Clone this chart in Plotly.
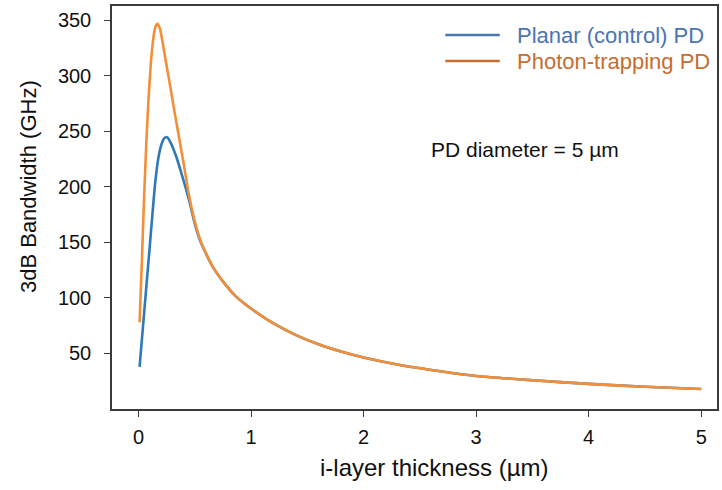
import plotly.graph_objects as go

# i-layer thickness (um) and 3dB bandwidth (GHz)
x_planar = [0.01, 0.05, 0.10, 0.15, 0.18, 0.21, 0.23, 0.25, 0.27, 0.29, 0.33, 0.38, 0.45, 0.50,
            0.55, 0.60, 0.66, 0.75, 0.87, 1.0, 1.1, 1.2, 1.4, 1.6, 1.8, 2.0, 2.3, 2.6, 3.0, 3.5,
            4.0, 4.5, 5.0]
y_planar = [38, 86, 146, 205, 228, 240, 244, 245, 243, 239, 229, 213, 188, 167,
            151, 140, 128, 115, 101, 90.5, 83.5, 77.2, 66.6, 58.3, 51.7, 46.3, 40, 35.2, 29.8, 25.9,
            22.6, 20.0, 18]

x_trap = [0.01, 0.03, 0.05, 0.07, 0.09, 0.11, 0.13, 0.15, 0.17, 0.19, 0.21, 0.24, 0.28, 0.32, 0.36,
          0.40, 0.45, 0.50, 0.55, 0.60, 0.66, 0.75, 0.87, 1.0, 1.1, 1.2, 1.4, 1.6, 1.8, 2.0, 2.3,
          2.6, 3.0, 3.5, 4.0, 4.5, 5.0]
y_trap = [78, 132, 190, 240, 280, 311, 332, 344, 347, 343, 333, 315, 292, 268, 245,
          222, 192, 169, 152, 140, 128, 115, 101, 90.5, 83.5, 77.2, 66.6, 58.3, 51.7, 46.3, 40,
          35.2, 29.8, 25.9, 22.6, 20.0, 18]

series_names = ["Planar (control) PD", "Photon-trapping PD"]
x_ticks = [0, 1, 2, 3, 4, 5]
y_ticks = [50, 100, 150, 200, 250, 300, 350]

FONT = "Liberation Sans, Arial, sans-serif"
BLUE = "#3179b6"
ORANGE = "#f28f38"
BLUE_LEG = "#4a74b2"
ORANGE_LEG = "#c66d30"
TXT = "#111111"

fig = go.Figure()
fig.add_trace(go.Scatter(x=x_planar, y=y_planar, mode="lines", name=series_names[0], showlegend=False,
                         line=dict(color=BLUE, width=2.6, shape="spline", smoothing=0.6)))
fig.add_trace(go.Scatter(x=x_trap, y=y_trap, mode="lines", name=series_names[1], showlegend=False,
                         line=dict(color=ORANGE, width=2.6, shape="spline", smoothing=0.6)))

# hand-drawn legend (paper coordinates)
for name, col, yy in [(series_names[0], BLUE_LEG, 0.928), (series_names[1], ORANGE_LEG, 0.8635)]:
    fig.add_shape(type="line", xref="paper", yref="paper", x0=0.551, x1=0.641, y0=yy, y1=yy,
                  line=dict(color=col, width=2.6))
    fig.add_annotation(xref="paper", yref="paper", x=0.666, y=yy, xanchor="left", yanchor="middle",
                       text=name, showarrow=False, font=dict(size=22, color=col, family=FONT))

fig.add_annotation(x=0.682, y=0.643, xref="paper", yref="paper", text="PD diameter = 5 µm",
                   xanchor="center", yanchor="middle",
                   showarrow=False, font=dict(size=21, color=TXT, family=FONT))

# axis titles
fig.add_annotation(x=0.533, y=-0.144, xref="paper", yref="paper", text="i-layer thickness (µm)",
                   xanchor="center", yanchor="middle", showarrow=False,
                   font=dict(size=24, color=TXT, family=FONT))
fig.add_annotation(x=-0.138, y=0.552, xref="paper", yref="paper", text="3dB Bandwidth (GHz)",
                   textangle=-90, xanchor="center", yanchor="middle", showarrow=False,
                   font=dict(size=22, color=TXT, family=FONT))

axis_common = dict(showline=True, linecolor="#3a3a3a", linewidth=1.5, mirror=True,
                   ticks="outside", ticklen=6, tickwidth=1.3, tickcolor="#3a3a3a",
                   showgrid=False, zeroline=False,
                   tickfont=dict(size=20, color=TXT, family=FONT))

fig.update_layout(
    width=722, height=490,
    margin=dict(l=112, r=3, t=6, b=81),
    paper_bgcolor="white", plot_bgcolor="white",
    font=dict(family=FONT),
    showlegend=False,
    xaxis=dict(range=[-0.235, 5.14], tickvals=x_ticks, ticklabelstandoff=3, **axis_common),
    yaxis=dict(range=[0, 363], tickvals=y_ticks, ticklabelstandoff=9, **axis_common),
)

fig.write_html("out.html")
